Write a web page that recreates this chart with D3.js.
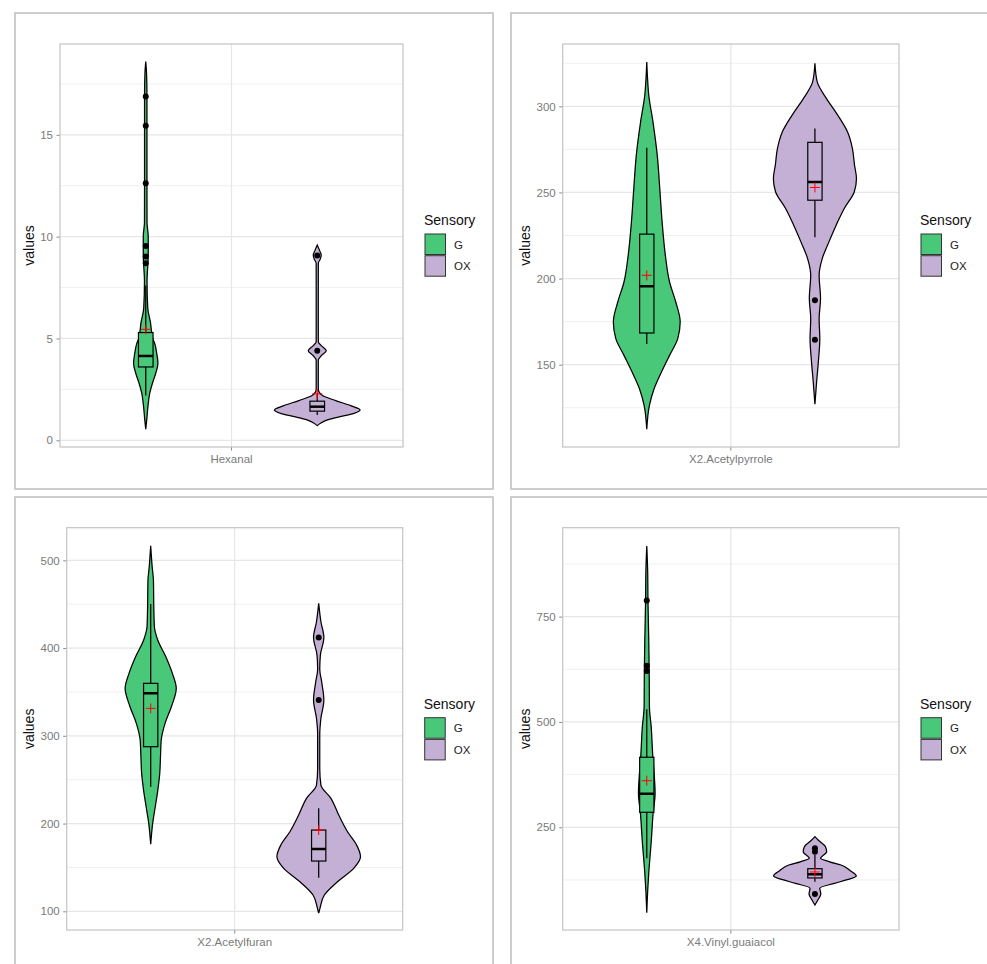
<!DOCTYPE html>
<html><head><meta charset="utf-8">
<script src="https://cdn.jsdelivr.net/npm/d3@7"></script>
<style>
body{margin:0;background:#fff;}
svg{display:block;font-family:"Liberation Sans",Arial,Helvetica,sans-serif;}
</style>
</head><body>
<svg id="chart" width="987" height="964"></svg>
<script>
// ---------- DATA ----------
const categories = ["Hexanal", "X2.Acetylpyrrole", "X2.Acetylfuran", "X4.Vinyl.guaiacol"];
const groups = ["G", "OX"];
const groupColors = ["#48C878", "#C5B0D5"];
const legendTitle = "Sensory";
const yLabel = "values";

const yMajorTicks = [[0, 5, 10, 15], [150, 200, 250, 300], [100, 200, 300, 400, 500], [250, 500, 750]];
const yMinorTicks = [[2.5, 7.5, 12.5, 17.5], [125, 175, 225, 275, 325], [150, 250, 350, 450], [125, 375, 625, 875]];
const yDomains = [[-0.33, 19.46], [102.2, 336.2], [78.7, 537.2], [6.2, 961]];

// violin profiles: [value, relative density]
const hexanalG_violin = [[0.54,0],[1.0,0.023],[1.65,0.051],[2.31,0.093],[2.8,0.156],[3.29,0.233],[3.78,0.284],[4.27,0.256],[4.76,0.209],[5.0,0.163],[5.8,0.109],[6.5,0.047],[7.8,0.03],[9.1,0.058],[10.0,0.058],[10.7,0.03],[12.6,0.028],[15.5,0.028],[16.9,0.028],[18.0,0.019],[18.6,0]];
const hexanalOX_violin = [[0.72,0],[0.85,0.085],[1.0,0.24],[1.15,0.51],[1.3,0.82],[1.49,1.0],[1.7,0.78],[1.95,0.43],[2.2,0.12],[2.35,0.047],[2.5,0.025],[3.0,0.024],[3.94,0.025],[4.15,0.093],[4.4,0.21],[4.65,0.093],[4.84,0.025],[6.5,0.024],[8.69,0.025],[8.9,0.07],[9.1,0.093],[9.3,0.058],[9.59,0]];
const acetylpyrroleG_violin = [[112.5,0],[126.3,0.063],[136,0.174],[145.7,0.349],[155.4,0.542],[165.1,0.737],[174.8,0.795],[186.4,0.69],[198,0.542],[213.5,0.442],[232.9,0.365],[252.3,0.309],[271.7,0.249],[291,0.147],[306.6,0.047],[316,0.019],[325.8,0]];
const acetylpyrroleOX_violin = [[127,0],[139.9,0.04],[151.5,0.081],[165.1,0.116],[176.7,0.1],[188.4,0.133],[201.9,0.1],[211.6,0.174],[221.3,0.333],[231,0.505],[240.7,0.698],[250.4,0.937],[258.1,0.988],[265.9,0.942],[275.6,0.891],[285.2,0.774],[294.9,0.542],[304.6,0.272],[314.3,0.053],[325,0]];
const acetylfuranG_violin = [[176.5,0],[200.3,0.047],[219.2,0.109],[238.2,0.17],[257.3,0.216],[276.2,0.233],[295.2,0.251],[314.2,0.342],[333.2,0.493],[354.1,0.609],[371.2,0.516],[390.1,0.36],[409.2,0.167],[424.3,0.088],[447.1,0.074],[477.6,0.065],[492.7,0.035],[516.5,0]];
const acetylfuranOX_violin = [[98,0],[103.4,0.03],[118.6,0.135],[133.7,0.447],[149,0.833],[162.3,0.995],[175.6,0.902],[190.7,0.686],[209.7,0.477],[228.8,0.291],[243.9,0.053],[263,0.025],[301,0.025],[320,0.053],[340.8,0.123],[361.7,0.07],[376,0.025],[392,0.04],[412,0.123],[430,0.053],[451,0]];
const vinylG_violin = [[47.3,0],[101.2,0.023],[140.8,0.047],[219.9,0.109],[283.2,0.151],[330.7,0.198],[378.2,0.174],[417.6,0.144],[488.8,0.105],[536.3,0.063],[615.5,0.058],[694.6,0.047],[790,0.028],[850,0.023],[917.7,0]];
const vinylOX_violin = [[65.6,0],[77.4,0.07],[91.7,0.14],[105.2,0.116],[117,0.465],[125.6,0.77],[134.4,0.984],[147,0.84],[160.5,0.62],[168,0.35],[176.4,0.135],[192.2,0.279],[204,0.251],[219.9,0.077],[227.7,0]];

// box stats: [lower whisker, Q1, median, Q3, upper whisker]
const hexanalG_box = [2.2, 3.6, 4.14, 5.29, 7.6];
const hexanalOX_box = [1.24, 1.43, 1.65, 1.92, 2.3];
const acetylpyrroleG_box = [162, 168.4, 195.5, 225.8, 276];
const acetylpyrroleOX_box = [224, 245.5, 256, 279.1, 287.2];
const acetylfuranG_box = [242, 287.6, 348.4, 359.8, 450.2];
const acetylfuranOX_box = [138.3, 157.3, 171, 192.6, 217.4];
const vinylG_box = [176.4, 285.6, 329.5, 416.2, 530];
const vinylOX_box = [121, 129.7, 138.4, 151.7, 184.3];

// means (red crosses) per panel: [G, OX]
const means = [[5.45, 2.28], [201.9, 252.9], [331.3, 192.6], [360.5, 143.9]];

// outliers
const hexanalG_out = [8.69, 9.02, 9.54, 12.62, 15.44, 16.88];
const hexanalOX_out = [4.40, 9.07];
const acetylpyrroleG_out = [];
const acetylpyrroleOX_out = [164.5, 187.4];
const acetylfuranG_out = [];
const acetylfuranOX_out = [340.8, 412.2];
const vinylG_out = [621, 633.6, 788.5];
const vinylOX_out = [91.7, 192.2, 200.2];

const violins = [[hexanalG_violin, hexanalOX_violin], [acetylpyrroleG_violin, acetylpyrroleOX_violin], [acetylfuranG_violin, acetylfuranOX_violin], [vinylG_violin, vinylOX_violin]];
const boxes = [[hexanalG_box, hexanalOX_box], [acetylpyrroleG_box, acetylpyrroleOX_box], [acetylfuranG_box, acetylfuranOX_box], [vinylG_box, vinylOX_box]];
const outliers = [[hexanalG_out, hexanalOX_out], [acetylpyrroleG_out, acetylpyrroleOX_out], [acetylfuranG_out, acetylfuranOX_out], [vinylG_out, vinylOX_out]];

// ---------- LAYOUT ----------
const panelFrames = [[15, 13], [511, 13], [15, 497], [511, 497]];
const plotRects = [[60, 44, 403, 447], [562.7, 44, 899, 447], [66.7, 527.7, 402.7, 930], [562.7, 527.7, 899, 930]];

const svg = d3.select("#chart");
const tickColor = "#7a7a7a";

categories.forEach((cat, i) => {
  const [px, py] = panelFrames[i];
  const [L, T, R, B] = plotRects[i];
  const g = svg.append("g");

  // outer frame
  g.append("rect").attr("x", px).attr("y", py).attr("width", 478).attr("height", 476)
    .attr("fill", "#fff").attr("stroke", "#bdbdbd").attr("stroke-width", 1.5);

  const y = d3.scaleLinear().domain(yDomains[i]).range([B, T]);
  const xCat = d3.scaleBand().domain([cat]).range([L, R]);
  const w = R - L;
  const xGrp = d3.scalePoint().domain(groups).range([L + 0.25 * w, L + 0.75 * w]);
  const spacing = xGrp(groups[1]) - xGrp(groups[0]);
  const wScale = d3.scaleLinear().domain([0, 1]).range([0, 0.25 * spacing]);
  const boxHalf = 0.0425 * spacing;

  // grid
  const grid = g.append("g");
  yMinorTicks[i].forEach(t => {
    grid.append("line").attr("x1", L).attr("x2", R).attr("y1", y(t)).attr("y2", y(t))
      .attr("stroke", "#ececec").attr("stroke-width", 0.8);
  });
  yMajorTicks[i].forEach(t => {
    grid.append("line").attr("x1", L).attr("x2", R).attr("y1", y(t)).attr("y2", y(t))
      .attr("stroke", "#e6e6e6").attr("stroke-width", 1.2);
  });
  const cx = xCat(cat) + xCat.bandwidth() / 2;
  grid.append("line").attr("x1", cx).attr("x2", cx).attr("y1", T).attr("y2", B)
    .attr("stroke", "#e6e6e6").attr("stroke-width", 1.2);

  // axes
  const yAxis = g.append("g").attr("transform", `translate(${L},0)`)
    .call(d3.axisLeft(y).tickValues(yMajorTicks[i]).tickSize(3.5).tickPadding(3.5));
  yAxis.select(".domain").remove();
  yAxis.selectAll(".tick line").attr("stroke", "#8a8a8a");
  yAxis.selectAll(".tick text").attr("fill", tickColor).style("font-size", "11.5px")
    .style("font-family", '"Liberation Sans",Arial,sans-serif');

  const xAxis = g.append("g").attr("transform", `translate(0,${B})`)
    .call(d3.axisBottom(xCat).tickSize(3.5).tickPadding(4));
  xAxis.select(".domain").remove();
  xAxis.selectAll(".tick line").attr("stroke", "#8a8a8a");
  xAxis.selectAll(".tick text").attr("fill", tickColor).style("font-size", "11.5px")
    .style("font-family", '"Liberation Sans",Arial,sans-serif');

  // y label
  g.append("text").attr("transform", `translate(${px + 19},${(T + B) / 2}) rotate(-90)`)
    .attr("text-anchor", "middle").attr("fill", "#111").style("font-size", "14px").text(yLabel);

  // clip
  const clipId = "clip" + i;
  g.append("clipPath").attr("id", clipId).append("rect").attr("x", L).attr("y", T).attr("width", w).attr("height", B - T);
  const marks = g.append("g").attr("clip-path", `url(#${clipId})`);

  groups.forEach((grp, j) => {
    const gx = xGrp(grp);
    const area = d3.area()
      .y(d => y(d[0]))
      .x0(d => gx - wScale(d[1]))
      .x1(d => gx + wScale(d[1]))
      .curve(d3.curveMonotoneY);
    marks.append("path").datum(violins[i][j]).attr("d", area)
      .attr("fill", groupColors[j]).attr("stroke", "#000").attr("stroke-width", 1.25);

    const [lo, q1, med, q3, hi] = boxes[i][j];
    // whiskers
    marks.append("line").attr("x1", gx).attr("x2", gx).attr("y1", y(q3)).attr("y2", y(hi))
      .attr("stroke", "#000").attr("stroke-width", 1.25);
    marks.append("line").attr("x1", gx).attr("x2", gx).attr("y1", y(q1)).attr("y2", y(lo))
      .attr("stroke", "#000").attr("stroke-width", 1.25);
    // box
    marks.append("rect").attr("x", gx - boxHalf).attr("width", 2 * boxHalf)
      .attr("y", y(q3)).attr("height", y(q1) - y(q3))
      .attr("fill", groupColors[j]).attr("stroke", "#000").attr("stroke-width", 1.2);
    marks.append("line").attr("x1", gx - boxHalf).attr("x2", gx + boxHalf).attr("y1", y(med)).attr("y2", y(med))
      .attr("stroke", "#000").attr("stroke-width", 2.5);
    // outliers
    outliers[i][j].forEach(v => {
      marks.append("circle").attr("cx", gx).attr("cy", y(v)).attr("r", 3).attr("fill", "#000");
    });
    // mean cross
    const my = y(means[i][j]);
    marks.append("path").attr("d", `M${gx - 5},${my}H${gx + 5}M${gx},${my - 5}V${my + 5}`)
      .attr("stroke", "#ff0000").attr("stroke-width", 1).attr("fill", "none");
  });

  // plot border
  g.append("rect").attr("x", L).attr("y", T).attr("width", w).attr("height", B - T)
    .attr("fill", "none").attr("stroke", "#c4c4c4").attr("stroke-width", 1.2);

  // legend
  const lx = R + 22, ly = T;
  g.append("text").attr("x", lx - 1).attr("y", ly + 181).attr("fill", "#111").style("font-size", "14px").text(legendTitle);
  groups.forEach((grp, j) => {
    const ky = ly + 190 + j * 21.7;
    g.append("rect").attr("x", lx).attr("y", ky).attr("width", 20.5).attr("height", 20.5)
      .attr("fill", groupColors[j]).attr("stroke", "#333").attr("stroke-width", 1);
    g.append("text").attr("x", lx + 29).attr("y", ky + 10.5).attr("dy", "0.35em")
      .attr("fill", "#222").style("font-size", "11.5px").text(grp);
  });
});
</script>
</body></html>
